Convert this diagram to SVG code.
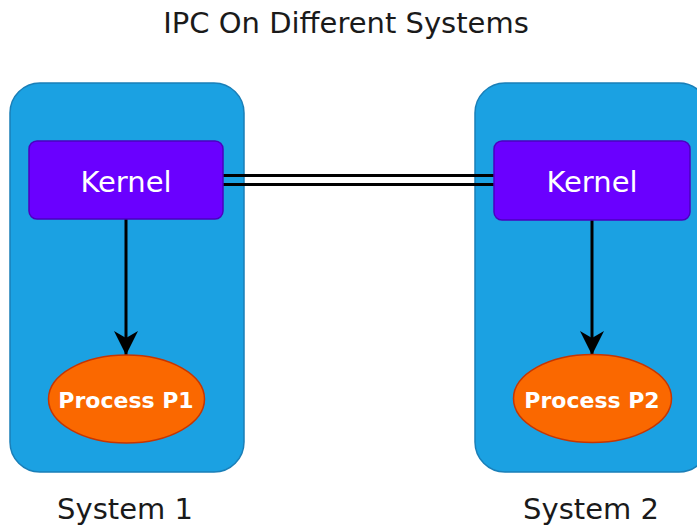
<svg xmlns="http://www.w3.org/2000/svg" width="697" height="526" viewBox="0 0 697 526">
<style>
.sys{fill:#1ba1e2;stroke:#1a7fb8;stroke-width:1.5}
.kern{fill:#6a00ff;stroke:#4b00c0;stroke-width:1.5}
.proc{fill:#fa6800;stroke:#c73500;stroke-width:1.5}
.wt{fill:#ffffff;font-family:"DejaVu Sans",Verdana,sans-serif;text-anchor:middle}
.bt{fill:#1a1a1a;font-family:"DejaVu Sans",Verdana,sans-serif;text-anchor:middle}
.ln{stroke:#000;stroke-width:3;fill:none}
</style>
<defs>
<marker id="ah" markerUnits="userSpaceOnUse" markerWidth="26" markerHeight="26" viewBox="0 0 26 26" refX="24" refY="13" orient="auto">
<path d="M0,1 L24,13 L0,25 L7,13 Z" fill="#000"/>
</marker>
</defs>
<rect width="697" height="526" fill="#fff"/>
<text class="bt" x="346" y="33" font-size="29">IPC On Different Systems</text>
<g id="system1">
<rect class="sys" x="10" y="83" width="234" height="389" rx="30"/>
<text class="bt" x="125" y="519" font-size="29">System 1</text>
</g>
<g id="system2">
<rect class="sys" x="475" y="83" width="234" height="389" rx="30"/>
<text class="bt" x="591" y="519" font-size="29">System 2</text>
</g>
<g id="connectors">
<line class="ln" x1="223" y1="175.5" x2="495" y2="175.5"/>
<line class="ln" x1="223" y1="184.5" x2="495" y2="184.5"/>
<line class="ln" x1="126" y1="219" x2="126" y2="355" marker-end="url(#ah)"/>
<line class="ln" x1="592" y1="220" x2="592" y2="355" marker-end="url(#ah)"/>
</g>
<g id="kernel1">
<rect class="kern" x="29" y="141" width="194" height="78" rx="8"/>
<text class="wt" x="126" y="192" font-size="29">Kernel</text>
</g>
<g id="kernel2">
<rect class="kern" x="494" y="141" width="196" height="79" rx="8"/>
<text class="wt" x="592" y="192" font-size="29">Kernel</text>
</g>
<g id="process1">
<ellipse class="proc" cx="126.5" cy="399" rx="78" ry="44"/>
<text class="wt" x="126" y="408" font-size="22" font-weight="bold">Process P1</text>
</g>
<g id="process2">
<ellipse class="proc" cx="592.5" cy="398.5" rx="79" ry="44"/>
<text class="wt" x="592" y="408" font-size="22" font-weight="bold">Process P2</text>
</g>
</svg>
